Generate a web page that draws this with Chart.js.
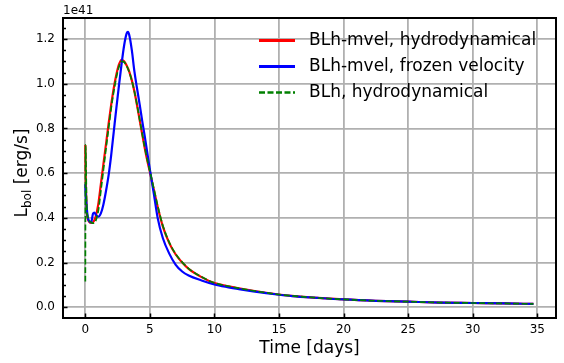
<!DOCTYPE html>
<html>
<head>
<meta charset="utf-8">
<script src="https://cdn.jsdelivr.net/npm/chart.js@4.4.0/dist/chart.umd.min.js"></script>
<style>
  html, body { margin: 0; padding: 0; background: #fff; }
  #wrap { width: 564px; height: 363px; }
</style>
</head>
<body>
<div id="wrap"><canvas id="lumChart" width="564" height="363"></canvas></div>
<script>
// Data (luminosity in units of 1e41 erg/s)
const days = [0, 0.02, 0.1, 0.2, 0.3, 0.45, 0.6, 0.7, 0.8, 1.0, 1.2, 1.4, 1.6, 1.8, 2.0, 2.2, 2.4, 2.6, 2.8, 3.0,
  3.2, 3.3, 3.4, 3.6, 3.8, 4.0, 4.2, 4.4, 4.6, 4.8, 5.0, 5.3, 5.6, 6.0, 6.5, 7.0, 7.5, 8.0, 9.0, 10,
  11, 12, 13, 14, 15, 16, 18, 20, 22.5, 25, 27.5, 30, 32.5, 34.7];
const lumMvelHydro = [0.726, 0.62, 0.44, 0.395, 0.382, 0.377, 0.38, 0.39, 0.405, 0.46, 0.55, 0.64, 0.73, 0.82, 0.905, 0.98, 1.04, 1.085, 1.107, 1.10,
  1.082, 1.069, 1.054, 1.015, 0.965, 0.905, 0.84, 0.775, 0.712, 0.655, 0.605, 0.527, 0.45, 0.362, 0.287, 0.236, 0.2, 0.172, 0.135, 0.108,
  0.095, 0.084, 0.074, 0.065, 0.057, 0.051, 0.042, 0.035, 0.029, 0.025, 0.021, 0.019, 0.017, 0.015];
const lumMvelFrozen = [0.55, 0.52, 0.45, 0.40, 0.385, 0.38, 0.42, 0.424, 0.415, 0.405, 0.42, 0.46, 0.52, 0.59, 0.68, 0.785, 0.89, 0.99, 1.085, 1.17,
  1.225, 1.232, 1.218, 1.15, 1.055, 0.98, 0.91, 0.835, 0.765, 0.69, 0.615, 0.51, 0.40, 0.31, 0.24, 0.19, 0.16, 0.142, 0.12, 0.102,
  0.09, 0.08, 0.071, 0.063, 0.056, 0.05, 0.042, 0.035, 0.029, 0.025, 0.021, 0.019, 0.017, 0.015];
const lumBlhHydro = [0.115, 0.726, 0.46, 0.40, 0.387, 0.38, 0.376, 0.377, 0.386, 0.43, 0.52, 0.615, 0.71, 0.80, 0.89, 0.965, 1.028, 1.075, 1.10, 1.097,
  1.08, 1.067, 1.052, 1.014, 0.966, 0.907, 0.843, 0.778, 0.716, 0.659, 0.609, 0.532, 0.455, 0.366, 0.29, 0.238, 0.202, 0.173, 0.136, 0.109,
  0.095, 0.084, 0.074, 0.065, 0.057, 0.051, 0.042, 0.035, 0.029, 0.025, 0.021, 0.019, 0.017, 0.015];

const seriesLabels = ['BLh-mvel, hydrodynamical', 'BLh-mvel, frozen velocity', 'BLh, hydrodynamical'];
const xTicks = [0, 5, 10, 15, 20, 25, 30, 35];
const yTicks = [0.0, 0.2, 0.4, 0.6, 0.8, 1.0, 1.2];
const yMinorTicks = [0.05, 0.1, 0.15, 0.25, 0.3, 0.35, 0.45, 0.5, 0.55, 0.65, 0.7, 0.75, 0.85, 0.9, 0.95, 1.05, 1.1, 1.15, 1.25];
const offsetText = '1e41';
const xTitle = 'Time [days]';

const FONT = "'DejaVu Sans', sans-serif";

function pts(vals) {
    return days.map((t, i) => ({ x: t, y: vals[i] }));
}

// frame, inward ticks, legend and axis titles (matplotlib look)
const mplDecor = {
    id: 'mplDecor',
    afterDatasetsDraw(chart) {
        const ctx = chart.ctx;
        const area = chart.chartArea;
        const xs = chart.scales.x;
        const ys = chart.scales.y;
        ctx.save();

        // inward ticks
        ctx.strokeStyle = '#000';
        ctx.lineWidth = 1.5;
        ctx.beginPath();
        yTicks.forEach(v => {
            const y = Math.round(ys.getPixelForValue(v)) + 0.5;
            ctx.moveTo(area.left, y);
            ctx.lineTo(area.left + 4.5, y);
        });
        yMinorTicks.forEach(v => {
            const y = Math.round(ys.getPixelForValue(v)) + 0.5;
            ctx.moveTo(area.left, y);
            ctx.lineTo(area.left + 3, y);
        });
        xTicks.forEach(v => {
            const x = Math.round(xs.getPixelForValue(v)) + 0.5;
            ctx.moveTo(x, area.bottom);
            ctx.lineTo(x, area.bottom - 4.5);
        });
        ctx.stroke();

        // frame
        ctx.lineWidth = 2;
        ctx.strokeRect(area.left, area.top, area.right - area.left, area.bottom - area.top);

        // legend
        const legendRows = [40.5, 66.5, 92.5];
        chart.data.datasets.forEach((ds, i) => {
            const y = legendRows[i];
            ctx.strokeStyle = ds.borderColor;
            ctx.lineWidth = ds.borderWidth + 0.6;
            ctx.setLineDash(ds.borderDash || []);
            ctx.beginPath();
            ctx.moveTo(259, y);
            ctx.lineTo(295, y);
            ctx.stroke();
            ctx.setLineDash([]);
            ctx.fillStyle = '#000';
            ctx.font = '17px ' + FONT;
            ctx.textAlign = 'left';
            ctx.textBaseline = 'middle';
            ctx.fillText(ds.label, 309, y);
        });

        // offset text
        ctx.font = '12px ' + FONT;
        ctx.textAlign = 'left';
        ctx.textBaseline = 'alphabetic';
        ctx.fillText(offsetText, area.left, 14);

        // x title
        ctx.font = '17px ' + FONT;
        ctx.textAlign = 'center';
        ctx.fillText(xTitle, (area.left + area.right) / 2, 353);

        // y title with subscript
        ctx.save();
        ctx.translate(27, 173);
        ctx.rotate(-Math.PI / 2);
        ctx.textAlign = 'left';
        const mainFont = '17px ' + FONT;
        const subFont = '12px ' + FONT;
        ctx.font = mainFont;
        const wL = ctx.measureText('L').width;
        const wRest = ctx.measureText(' [erg/s]').width;
        ctx.font = subFont;
        const wSub = ctx.measureText('bol').width;
        let x0 = -(wL + wSub + wRest) / 2;
        ctx.font = mainFont;
        ctx.fillText('L', x0, 0);
        ctx.font = subFont;
        ctx.fillText('bol', x0 + wL, 4);
        ctx.font = mainFont;
        ctx.fillText(' [erg/s]', x0 + wL + wSub, 0);
        ctx.restore();

        ctx.restore();
    }
};

const lumChart = new Chart(document.getElementById('lumChart').getContext('2d'), {
    type: 'line',
    data: {
        datasets: [
            {
                label: seriesLabels[0],
                data: pts(lumMvelHydro),
                borderColor: '#ff0000',
                borderWidth: 2.2,
                order: 3
            },
            {
                label: seriesLabels[1],
                data: pts(lumMvelFrozen),
                borderColor: '#0000ff',
                borderWidth: 2.2,
                order: 2
            },
            {
                label: seriesLabels[2],
                data: pts(lumBlhHydro),
                borderColor: '#008000',
                borderWidth: 1.7,
                borderDash: [6, 2.5],
                order: 1
            }
        ]
    },
    options: {
        responsive: false,
        devicePixelRatio: 1,
        animation: false,
        layout: { padding: { top: 18, right: 8, left: 0, bottom: 0 } },
        elements: {
            point: { radius: 0 },
            line: { cubicInterpolationMode: 'monotone', fill: false }
        },
        plugins: {
            legend: { display: false },
            tooltip: { enabled: false }
        },
        scales: {
            x: {
                type: 'linear',
                min: -1.73,
                max: 36.45,
                afterBuildTicks: s => { s.ticks = xTicks.map(v => ({ value: v })); },
                afterFit: s => { s.height = 45; },
                grid: { color: '#b0b0b0', lineWidth: 1.8, drawTicks: false },
                border: { display: false },
                ticks: {
                    padding: 5,
                    color: '#000',
                    font: { family: FONT, size: 12 },
                    maxRotation: 0,
                    callback: v => String(v)
                }
            },
            y: {
                type: 'linear',
                min: -0.048,
                max: 1.294,
                afterBuildTicks: s => { s.ticks = yTicks.map(v => ({ value: v })); },
                afterFit: s => { s.width = 63; },
                grid: { color: '#b0b0b0', lineWidth: 1.8, drawTicks: false },
                border: { display: false },
                ticks: {
                    padding: 8,
                    color: '#000',
                    font: { family: FONT, size: 12 },
                    callback: v => v.toFixed(1)
                }
            }
        }
    },
    plugins: [mplDecor]
});
</script>
</body>
</html>
